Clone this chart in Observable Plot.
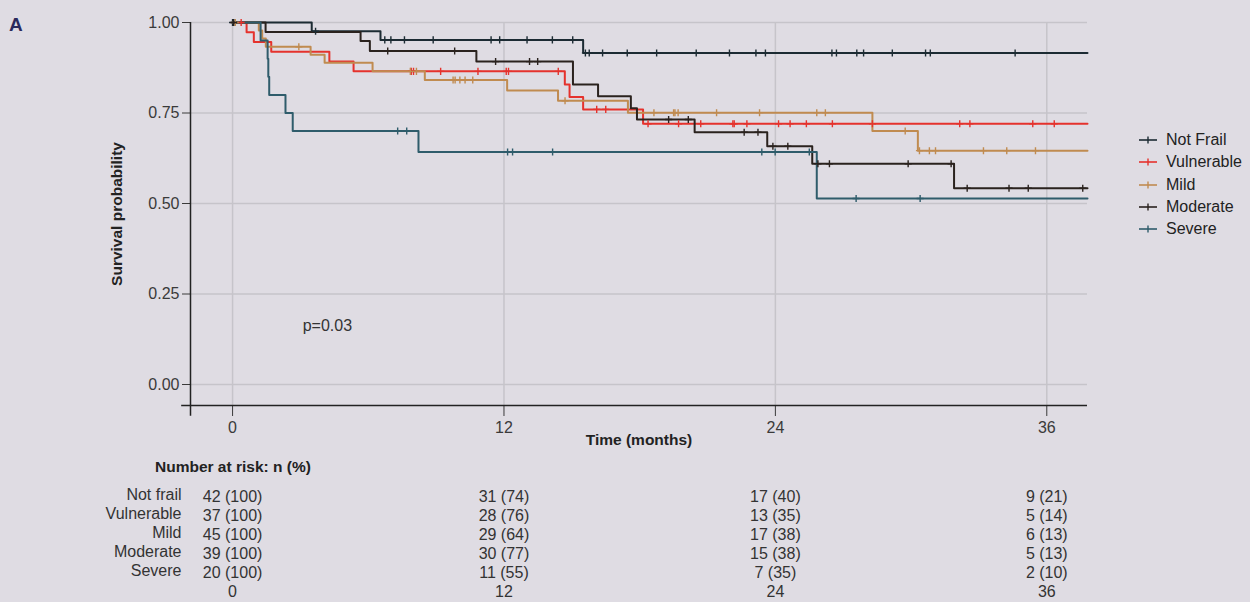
<!DOCTYPE html>
<html><head><meta charset="utf-8">
<script src="https://cdn.jsdelivr.net/npm/d3@7"></script>
<script src="https://cdn.jsdelivr.net/npm/@observablehq/plot@0.6"></script>
<style>
body{margin:0;background:#dfdce3;}
#fig{position:relative;width:1250px;height:602px;background:#dfdce3;font-family:'Liberation Sans',Arial,sans-serif;color:#333;overflow:hidden}
#fig svg{display:block}
.lab-a{position:absolute;left:9px;top:14px;font-weight:bold;font-size:19px;color:#2b2a5c}
.legend{position:absolute;left:1138px;top:129px;font-size:16px;color:#222}
.legend div{height:22.3px;display:flex;align-items:center}
.legend svg{margin-right:8px}
.risk-title{position:absolute;left:155px;top:456px;font-weight:bold;font-size:15.5px;color:#222;line-height:22px}
</style></head><body><div id="fig"></div>
<script>
// ---- data ----
const groups = ["Not Frail", "Vulnerable", "Mild", "Moderate", "Severe"];
const groupColors = ["#1c2b33", "#e5322d", "#c08b50", "#2a221e", "#2f5c6b"];

const notFrailTimes = [0, 3.5, 6.54, 15.5, 37.8];
const notFrailSurv  = [1, 0.976, 0.952, 0.916, 0.916];
const notFrailCens  = [0, 3.67, 6.73, 7.0, 7.6, 8.87, 11.43, 11.81, 13.02, 14.14, 15.04, 15.6, 15.77, 16.36, 17.45, 18.75, 20.5, 21.97, 23.14, 23.56, 26.5, 26.7, 27.6, 27.9, 29.17, 30.64, 30.85, 34.6];

const vulnerableTimes = [0, 0.62, 0.94, 1.71, 4.28, 5.35, 14.69, 14.9, 15.5, 18.15, 37.8];
const vulnerableSurv  = [1, 0.973, 0.946, 0.919, 0.892, 0.865, 0.829, 0.794, 0.760, 0.720, 0.720];
const vulnerableCens  = [0.38, 7.9, 8.0, 9.2, 10.85, 12.1, 12.2, 14.4, 16.1, 16.5, 18.37, 19.72, 20.7, 22.12, 22.18, 22.74, 24.14, 24.65, 25.37, 26.52, 28.29, 32.15, 32.6, 35.38, 36.33];

const mildTimes = [0, 1.16, 1.31, 1.47, 3.45, 4.07, 6.19, 8.5, 12.14, 14.39, 17.48, 28.29, 30.3, 37.8];
const mildSurv  = [1, 0.978, 0.956, 0.933, 0.911, 0.889, 0.865, 0.841, 0.812, 0.784, 0.751, 0.700, 0.646, 0.646];
const mildCens  = [0.12, 2.93, 7.86, 8.13, 9.75, 9.84, 10.05, 10.28, 10.62, 14.7, 18.63, 19.5, 19.56, 19.7, 21.4, 23.3, 25.83, 26.21, 29.74, 30.37, 30.81, 31.08, 33.2, 34.23, 35.5];

const moderateTimes = [0, 1.46, 5.66, 6.07, 10.78, 15.05, 16.16, 17.61, 17.88, 20.43, 23.64, 25.63, 31.9, 37.8];
const moderateSurv  = [1, 0.974, 0.949, 0.921, 0.892, 0.829, 0.796, 0.763, 0.732, 0.697, 0.658, 0.610, 0.542, 0.542];
const moderateCens  = [0.05, 6.86, 9.82, 11.63, 13.13, 13.49, 19.28, 20.15, 22.62, 23.23, 23.89, 24.55, 25.88, 26.39, 29.87, 31.77, 32.48, 34.33, 35.18, 37.59];

const severeTimes = [0, 1.24, 1.55, 1.58, 1.62, 2.34, 2.66, 8.22, 25.83, 37.8];
const severeSurv  = [1, 0.95, 0.90, 0.85, 0.80, 0.75, 0.70, 0.642, 0.514, 0.514];
const severeCens  = [7.3, 7.7, 12.16, 12.38, 14.15, 23.4, 23.99, 25.5, 27.57, 30.4];

const yTicks = [0, 0.25, 0.5, 0.75, 1];
const xTicks = [0, 12, 24, 36];
const pLabel = "p=0.03";
const pTime = 3.1;
const pSurv = 0.163;

const riskRows = ["Not frail", "Vulnerable", "Mild", "Moderate", "Severe"];
const riskNotFrail   = ["42 (100)", "31 (74)", "17 (40)", "9 (21)"];
const riskVulnerable = ["37 (100)", "28 (76)", "13 (35)", "5 (14)"];
const riskMild       = ["45 (100)", "29 (64)", "17 (38)", "6 (13)"];
const riskModerate   = ["39 (100)", "30 (77)", "15 (38)", "5 (13)"];
const riskSevere     = ["20 (100)", "11 (55)", "7 (35)", "2 (10)"];

// ---- build tables ----
const curveSets = [
  [notFrailTimes, notFrailSurv, notFrailCens],
  [vulnerableTimes, vulnerableSurv, vulnerableCens],
  [mildTimes, mildSurv, mildCens],
  [moderateTimes, moderateSurv, moderateCens],
  [severeTimes, severeSurv, severeCens]
];
const steps = [], cens = [];
curveSets.forEach(([t, s, c], gi) => {
  t.forEach((ti, i) => steps.push({group: groups[gi], time: ti, surv: s[i]}));
  c.forEach(ci => {
    let k = 0;
    for (let i = 0; i < t.length; i++) if (t[i] <= ci) k = i;
    cens.push({group: groups[gi], time: ci, surv: s[k]});
  });
});
const riskSets = [riskNotFrail, riskVulnerable, riskMild, riskModerate, riskSevere];
const riskCells = [];
riskSets.forEach((arr, ri) => arr.forEach((lab, ti) => riskCells.push({row: riskRows[ri], time: xTicks[ti], label: lab})));

const xDomain = [-1.86, 37.8];
const yDomain = [-0.058, 1.0];
const font = "'Liberation Sans',Arial,sans-serif";

const main = Plot.plot({
  width: 1250, height: 455,
  marginLeft: 190, marginRight: 163, marginTop: 22, marginBottom: 50,
  style: {background: "transparent", fontFamily: font, fontSize: "16px", color: "#333"},
  x: {domain: xDomain},
  y: {domain: yDomain},
  color: {domain: groups, range: groupColors},
  marks: [
    Plot.gridY(yTicks, {stroke: "#c6c4ca", strokeOpacity: 1, strokeWidth: 1.5}),
    Plot.gridX(xTicks, {stroke: "#c6c4ca", strokeOpacity: 1, strokeWidth: 1.5}),
    Plot.axisY(yTicks, {tickSize: 8, tickPadding: 3, tickFormat: d3.format(".2f"), label: null, color: "#3a3a3a", fontSize: 16}),
    Plot.axisX(xTicks, {tickSize: 11, tickPadding: 5, label: null, color: "#3a3a3a", fontSize: 16}),
    Plot.ruleX([xDomain[0]], {y1: yDomain[1], y2: -0.088, stroke: "#222", strokeWidth: 1.5}),
    Plot.ruleY([yDomain[0]], {x1: -2.25, x2: xDomain[1], stroke: "#222", strokeWidth: 1.5}),
    Plot.line(steps, {x: "time", y: "surv", z: "group", stroke: "group", curve: "step-after", strokeWidth: 2}),
    Plot.dot(cens, {x: "time", y: "surv", stroke: "group", symbol: "plus", r: 2.4, strokeWidth: 1.4}),
    Plot.text([pLabel], {x: pTime, y: pSurv, text: d => d, textAnchor: "start", fontSize: 16, fill: "#333"}),
    Plot.text(["Survival probability"], {frameAnchor: "left", textAnchor: "middle", dx: -73, rotate: -90, text: d => d, fontWeight: "bold", fontSize: 15.5, fill: "#222"}),
    Plot.text(["Time (months)"], {frameAnchor: "bottom", dy: 39, text: d => d, fontWeight: "bold", fontSize: 15.5, fill: "#222"})
  ]
});

const table = Plot.plot({
  width: 1250, height: 147,
  marginLeft: 190, marginRight: 163, marginTop: 0, marginBottom: 0,
  style: {background: "transparent", fontFamily: font, fontSize: "16px", color: "#333"},
  x: {domain: xDomain, axis: null},
  y: {type: "point", padding: 0, domain: [...riskRows, "time"], range: [39, 138], axis: null},
  marks: [
    Plot.text(riskCells, {x: "time", y: "row", text: "label", fontSize: 16, fill: "#333"}),
    Plot.text(riskRows, {y: d => d, frameAnchor: "left", dx: -9, dy: -2, textAnchor: "end", text: d => d, fontSize: 16, fill: "#333"}),
    Plot.text(xTicks, {x: d => d, y: () => "time", text: d => String(d), fontSize: 16, fill: "#333"})
  ]
});

const fig = document.getElementById("fig");
fig.appendChild(main);
fig.appendChild(table);

const a = document.createElement("div");
a.className = "lab-a"; a.textContent = "A";
fig.appendChild(a);

const rt = document.createElement("div");
rt.className = "risk-title"; rt.textContent = "Number at risk: n (%)";
fig.appendChild(rt);

const leg = document.createElement("div");
leg.className = "legend";
groups.forEach((g, i) => {
  const row = document.createElement("div");
  row.innerHTML = `<svg width="20" height="12"><line x1="1" x2="19" y1="6" y2="6" stroke="${groupColors[i]}" stroke-width="1.6"/><line x1="10" x2="10" y1="2.5" y2="9.5" stroke="${groupColors[i]}" stroke-width="1.4"/></svg><span>${g}</span>`;
  leg.appendChild(row);
});
fig.appendChild(leg);
</script>
</body></html>
